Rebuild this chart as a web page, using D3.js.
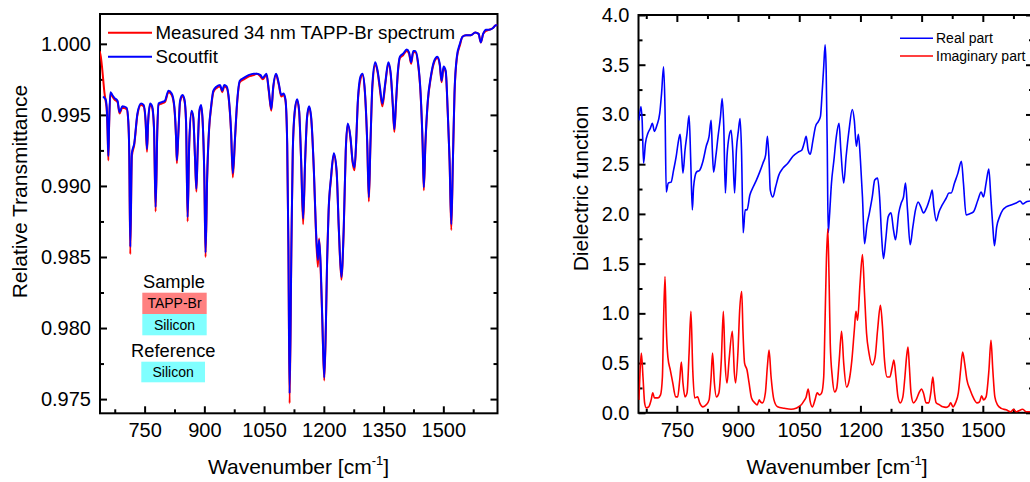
<!DOCTYPE html>
<html>
<head>
<title>TAPP-Br spectrum</title>
<script src="https://d3js.org/d3.v7.min.js"></script>
<style>
 body { margin: 0; background: #fff; }
 svg { display: block; font-family: Arial, "Liberation Sans", sans-serif; }
 .tick text { font-size: 20px; fill: #000; }
 .tick line { stroke: #000; stroke-width: 2px; }
</style>
</head>
<body>
<svg width="1030" height="482"></svg>
<script>
// ---------- left panel: relative transmittance ----------
const transWn = [637,640,643,646,649,652,655,657,659,661,664,669,674,682,687,694,705,709,711.5,714,718,724,732,741,747.5,752.5,756,759,764,769,773.6,777.6,782,785,793,801,810,818,824.6,829,831,835,839,845,850,854,858,862,868,872,876.6,880,883,887.5,891.7,895.7,900,903,907,912,917,922.6,931,939.5,945,950,956,962,967,971.5,977,982,989,999,1011,1024,1032,1041,1046.5,1056,1062,1068,1073,1080,1087,1093,1099,1103.6,1108,1111,1114,1118.6,1122,1127,1133,1138,1143,1148,1153,1158,1163,1168,1175,1180,1185,1188,1191.5,1196,1201,1205,1208,1212,1218,1225,1232,1237.5,1244,1250,1255,1260,1267,1272,1277,1281,1285,1292,1297,1303,1309,1313,1317,1322,1329,1335,1340.6,1347,1354,1362,1368,1373,1377,1381,1386,1391,1399,1408,1414,1419,1424.5,1429.5,1436,1443,1448,1451,1455,1461,1468.6,1477,1485,1491,1495.6,1500.6,1506,1511,1515.7,1520,1524,1528,1534,1541.6,1548,1557,1569,1580,1588.6,1594,1600,1607,1615.5,1624,1632,1636];
const fitT = [null,null,null,0.9963,0.9962,0.9961,0.9955,0.9940,0.9921,0.9945,0.9966,0.9964,0.9962,0.9960,0.9952,0.9956,0.9955,0.9946,0.9923,0.9857,0.9923,0.9930,0.9951,0.9958,0.9957,0.9946,0.9926,0.9946,0.9958,0.9956,0.9941,0.9885,0.9941,0.9958,0.9959,0.9960,0.9967,0.9965,0.9956,0.9934,0.9918,0.9939,0.9960,0.9964,0.9961,0.9946,0.9878,0.9930,0.9953,0.9949,0.9920,0.9898,0.9923,0.9953,0.9957,0.9946,0.9906,0.9853,0.9906,0.9941,0.9956,0.9967,0.9970,0.9971,0.9967,0.9971,0.9970,0.9960,0.9939,0.9909,0.9934,0.9958,0.9974,0.9976,0.9978,0.9979,0.9979,0.9978,0.9976,0.9979,0.9967,0.9954,0.9970,0.9979,0.9972,0.9964,0.9965,0.9961,0.9930,0.9859,0.9754,0.9859,0.9925,0.9953,0.9961,0.9953,0.9918,0.9877,0.9918,0.9949,0.9956,0.9949,0.9911,0.9871,0.9848,0.9862,0.9848,0.9808,0.9765,0.9801,0.9845,0.9883,0.9906,0.9923,0.9911,0.9871,0.9836,0.9871,0.9925,0.9944,0.9934,0.9918,0.9913,0.9930,0.9958,0.9977,0.9979,0.9967,0.9930,0.9892,0.9930,0.9972,0.9987,0.9981,0.9970,0.9958,0.9972,0.9987,0.9979,0.9958,0.9940,0.9958,0.9981,0.9991,0.9993,0.9996,0.9994,0.9987,0.9995,0.9995,0.9988,0.9965,0.9930,0.9899,0.9930,0.9960,0.9977,0.9988,0.9991,0.9986,0.9974,0.9984,0.9981,0.9953,0.9918,0.9873,0.9918,0.9965,0.9991,1.0000,1.0005,1.0006,1.0006,1.0008,1.0007,1.0001,1.0007,1.0010,1.0010,1.0011,1.0013,1.0013];
const measuredT = [0.9995,0.9991,0.9984,0.9975,0.9966,0.9960,0.9953,0.9938,0.9918,0.9944,0.9965,0.9963,0.9961,0.9959,0.9951,0.9955,0.9954,0.9945,0.9921,0.9852,0.9921,0.9929,0.9950,0.9957,0.9956,0.9945,0.9924,0.9945,0.9957,0.9955,0.9940,0.9882,0.9940,0.9957,0.9958,0.9959,0.9966,0.9964,0.9955,0.9933,0.9916,0.9938,0.9959,0.9963,0.9960,0.9945,0.9875,0.9929,0.9952,0.9948,0.9919,0.9896,0.9922,0.9952,0.9956,0.9945,0.9905,0.9850,0.9905,0.9940,0.9955,0.9966,0.9969,0.9970,0.9966,0.9970,0.9969,0.9959,0.9938,0.9906,0.9933,0.9957,0.9973,0.9975,0.9977,0.9978,0.9979,0.9977,0.9975,0.9978,0.9966,0.9953,0.9969,0.9978,0.9971,0.9963,0.9964,0.9960,0.9929,0.9857,0.9747,0.9857,0.9924,0.9952,0.9960,0.9952,0.9917,0.9873,0.9917,0.9948,0.9955,0.9948,0.9910,0.9869,0.9843,0.9863,0.9845,0.9806,0.9763,0.9799,0.9844,0.9882,0.9905,0.9922,0.9910,0.9870,0.9834,0.9870,0.9924,0.9943,0.9933,0.9917,0.9911,0.9929,0.9957,0.9975,0.9978,0.9966,0.9929,0.9889,0.9929,0.9970,0.9985,0.9980,0.9968,0.9956,0.9971,0.9986,0.9978,0.9957,0.9938,0.9957,0.9980,0.9990,0.9992,0.9995,0.9993,0.9986,0.9994,0.9994,0.9987,0.9964,0.9929,0.9897,0.9929,0.9959,0.9976,0.9987,0.9990,0.9985,0.9973,0.9983,0.9980,0.9952,0.9917,0.9869,0.9917,0.9964,0.9990,0.9999,1.0005,1.0006,1.0006,1.0008,1.0007,1.0001,1.0007,1.0009,1.0010,1.0011,1.0013,1.0013];

// ---------- right panel: dielectric function ----------
const realWn = [657,662,665,668.4,673,679,685,690,695,701,708,712.5,717.5,721,724,729,736,742,748.5,753,758,761.6,765,770,775,780,784,788,791,798,806,814,822,829,834,837,840,845.6,851,857,861,865,869,873,878,883,887,891.6,896,901,905,908.5,912.6,917.5,922,929,937,945,953,961,967.6,972,976,979,985.5,992,1000,1010,1022,1034.5,1047,1056,1062,1067,1072,1077,1083.6,1090,1097,1102,1106,1110,1113.5,1116,1118.6,1121,1124,1129,1135,1141,1147.5,1152,1159,1165,1172,1180,1185,1190,1195,1200,1205,1210,1216,1222,1229,1235,1242,1247,1252,1256.5,1262,1268,1275,1281,1286,1294,1300,1305.6,1310.5,1315.4,1322,1328.5,1335,1341.6,1348,1354.5,1363,1371,1376,1380,1386,1392.5,1400.6,1410.4,1417,1422.4,1430.6,1439,1447.6,1452.5,1459,1467,1477,1488,1496,1501.5,1508,1514.7,1519.6,1524.5,1528.5,1534,1541,1549,1557,1569,1582,1591.5,1598,1606,1616,1625];
const realPart = [2.94,3.08,2.94,2.51,2.71,2.81,2.86,2.91,2.83,2.89,3.01,3.21,3.48,3.05,2.22,2.31,2.32,2.44,2.58,2.71,2.80,2.61,2.41,2.64,2.81,2.99,2.54,2.04,2.27,2.42,2.44,2.53,2.68,2.78,2.94,2.64,2.42,2.58,2.78,2.98,3.16,2.88,2.21,2.58,2.78,2.84,2.64,2.21,2.64,2.84,2.96,2.64,1.81,2.04,2.04,2.19,2.27,2.34,2.42,2.51,2.59,2.78,2.54,2.24,2.17,2.27,2.39,2.46,2.51,2.58,2.62,2.64,2.71,2.78,2.64,2.60,2.74,2.88,2.93,2.98,3.21,3.48,3.70,3.45,2.71,1.81,1.97,2.31,2.54,2.78,2.91,2.64,2.31,2.58,2.84,3.05,2.94,2.68,2.80,2.54,2.17,1.70,1.89,2.01,2.17,2.34,2.36,2.17,1.77,1.55,1.74,1.97,2.01,1.84,1.74,2.01,2.11,2.17,2.31,2.04,1.69,1.87,2.04,2.12,2.07,2.01,2.07,2.17,2.24,2.07,1.93,2.02,2.09,2.16,2.21,2.21,2.31,2.41,2.53,2.31,1.99,2.00,2.02,2.14,2.22,2.17,2.31,2.45,2.17,1.87,1.68,1.87,1.97,2.04,2.07,2.09,2.11,2.13,2.10,2.12,2.13,2.14];
const imagWn = [657,660,663,667,671,675,681,687,691,695,704,710,714.6,717.5,721,724,728,734,740,747,752,757,761,765,770,775,780,784.5,789,793.6,801,806,814,822,829,834,837.5,842,847,853,859,864,868,873,878,886,891,894,900,904,909,912,916,922,927,933,941,947,952,955,960,967,971.8,976,981,988,997,1013,1030,1042,1048,1055,1060,1067,1072,1077,1082,1088.6,1094,1100,1105,1110,1113,1116.6,1120,1123,1126,1131,1137,1142,1148,1153.8,1159,1166,1172.6,1179,1185,1189,1193,1199,1205,1210,1215,1221,1229,1236,1242,1249,1254,1259,1265.6,1272,1278,1282,1287,1292,1297.6,1304,1309,1313,1316.6,1320,1324,1330,1336.5,1344.6,1349.6,1354.5,1361,1367.5,1372.5,1377.5,1381.5,1385.6,1393.8,1402,1410,1417,1421,1427,1433,1440,1445.6,1450.5,1455.4,1461,1469,1477,1486,1492,1497,1502,1508,1515,1520,1524.5,1529.5,1536,1545,1557,1569,1575,1582,1598,1606,1616,1625];
const imagPart = [0.13,0.43,0.60,0.36,0.10,0.05,0.06,0.13,0.20,0.15,0.15,0.18,0.36,0.93,1.37,0.87,0.56,0.43,0.30,0.16,0.16,0.33,0.51,0.30,0.16,0.20,0.60,1.02,0.43,0.15,0.16,0.10,0.06,0.08,0.13,0.36,0.60,0.30,0.16,0.20,0.53,1.02,0.53,0.30,0.53,0.82,0.40,0.30,0.63,1.03,1.22,0.83,0.50,0.43,0.30,0.15,0.10,0.08,0.13,0.11,0.10,0.20,0.46,0.63,0.36,0.13,0.06,0.045,0.035,0.045,0.06,0.08,0.11,0.16,0.24,0.11,0.06,0.13,0.20,0.18,0.20,0.36,0.87,1.54,1.85,1.37,0.70,0.36,0.21,0.25,0.53,0.82,0.50,0.26,0.33,0.53,0.83,1.02,0.93,1.30,1.59,1.20,0.80,0.60,0.48,0.56,0.83,1.08,0.87,0.53,0.36,0.36,0.46,0.53,0.36,0.16,0.10,0.16,0.36,0.56,0.66,0.46,0.20,0.10,0.13,0.21,0.24,0.20,0.10,0.10,0.20,0.36,0.20,0.10,0.08,0.06,0.055,0.07,0.10,0.06,0.10,0.20,0.43,0.61,0.50,0.33,0.23,0.15,0.10,0.11,0.17,0.13,0.16,0.43,0.73,0.43,0.16,0.08,0.045,0.03,0.01,0.035,0.01,0.035,0.01,0.01,0.01];

const wnTicks = [750, 900, 1050, 1200, 1350, 1500];
const wnMinor = [675, 825, 975, 1125, 1275, 1425, 1575];
const transTicks = [0.975, 0.980, 0.985, 0.990, 0.995, 1.000];
const transMinor = [0.9775, 0.9825, 0.9875, 0.9925, 0.9975];
const epsTicks = [0, 0.5, 1, 1.5, 2, 2.5, 3, 3.5, 4];
const epsMinor = [0.25, 0.75, 1.25, 1.75, 2.25, 2.75, 3.25, 3.75];

const svg = d3.select("svg");
const defs = svg.append("defs");

function drawPanel(id, box, xDomain, yDomain, yTicks, yMinor, yFmt, topTicks) {
    const x = d3.scaleLinear().domain(xDomain).range([box.left, box.right]);
    const y = d3.scaleLinear().domain(yDomain).range([box.bottom, box.top]);
    const g = svg.append("g");

    defs.append("clipPath").attr("id", id)
        .append("rect")
        .attr("x", box.left).attr("y", box.top)
        .attr("width", box.right - box.left).attr("height", box.bottom - box.top);

    // bottom axis, ticks pointing inward
    g.append("g").attr("transform", `translate(0,${box.bottom})`)
     .call(d3.axisBottom(x).tickValues(wnTicks).tickSize(-7).tickPadding(10).tickFormat(d3.format("d")));
    g.append("g").attr("transform", `translate(0,${box.bottom})`)
     .call(d3.axisBottom(x).tickValues(wnMinor).tickSize(-4).tickFormat(""));
    if (topTicks) {
        g.append("g").attr("transform", `translate(0,${box.top})`)
         .call(d3.axisTop(x).tickValues(wnTicks).tickSize(-7).tickFormat(""));
        g.append("g").attr("transform", `translate(0,${box.top})`)
         .call(d3.axisTop(x).tickValues(wnMinor).tickSize(-4).tickFormat(""));
    }
    g.append("g").attr("transform", `translate(${box.left},0)`)
     .call(d3.axisLeft(y).tickValues(yTicks).tickSize(-7).tickPadding(9).tickFormat(yFmt));
    g.append("g").attr("transform", `translate(${box.left},0)`)
     .call(d3.axisLeft(y).tickValues(yMinor).tickSize(-4).tickFormat(""));
    g.append("g").attr("transform", `translate(${box.right},0)`)
     .call(d3.axisRight(y).tickValues(yTicks).tickSize(-7).tickFormat(""));
    g.append("g").attr("transform", `translate(${box.right},0)`)
     .call(d3.axisRight(y).tickValues(yMinor).tickSize(-4).tickFormat(""));
    g.selectAll(".domain").remove();

    g.append("rect")
     .attr("x", box.left).attr("y", box.top)
     .attr("width", box.right - box.left).attr("height", box.bottom - box.top)
     .attr("fill", "none").attr("stroke", "#000").attr("stroke-width", 2);

    return { x, y, g };
}

function addXTitle(cx) {
    const t = svg.append("text")
        .attr("x", cx).attr("y", 474)
        .attr("text-anchor", "middle")
        .attr("font-size", 21);
    t.append("tspan").text("Wavenumber [cm");
    t.append("tspan").attr("font-size", 13).attr("dy", -9).text("-1");
    t.append("tspan").attr("dy", 9).text("]");
}

function addYTitle(x, cy, label) {
    svg.append("text")
       .attr("transform", `translate(${x},${cy}) rotate(-90)`)
       .attr("text-anchor", "middle")
       .attr("font-size", 21)
       .text(label);
}

// left
const L = drawPanel("clipL", {left: 100, right: 497.5, top: 14, bottom: 413.3},
                    [638, 1636], [0.974, 1.0021], transTicks, transMinor, d3.format(".3f"), false);
const lineL = (vals) => d3.line()
    .defined((d, i) => vals[i] !== null)
    .x((d, i) => L.x(transWn[i]))
    .y((d, i) => L.y(vals[i]))
    .curve(d3.curveMonotoneX);

L.g.append("path").datum(transWn)
   .attr("clip-path", "url(#clipL)")
   .attr("d", lineL(measuredT)(transWn))
   .attr("fill", "none").attr("stroke", "#ff0000").attr("stroke-width", 2);
L.g.append("path").datum(transWn)
   .attr("clip-path", "url(#clipL)")
   .attr("d", lineL(fitT)(transWn))
   .attr("fill", "none").attr("stroke", "#0000ff").attr("stroke-width", 2);

addXTitle(298.5);
addYTitle(26.5, 191.5, "Relative Transmittance");

// legend left
const legL = [{label: "Measured 34 nm TAPP-Br spectrum", color: "#ff0000", y: 32.7},
              {label: "Scoutfit", color: "#0000ff", y: 56.7}];
legL.forEach(d => {
    svg.append("line").attr("x1", 108).attr("x2", 152).attr("y1", d.y).attr("y2", d.y)
       .attr("stroke", d.color).attr("stroke-width", 2);
    svg.append("text").attr("x", 155.5).attr("y", d.y + 6.6)
       .attr("font-size", 18.7).text(d.label);
});

// sample / reference boxes
svg.append("text").attr("x", 174).attr("y", 287.7).attr("text-anchor", "middle")
   .attr("font-size", 18.3).text("Sample");
const boxes = [{label: "TAPP-Br", fill: "#ff8080", x: 142.3, y: 292.7, w: 64.4, h: 21.3},
               {label: "Silicon", fill: "#80ffff", x: 142.3, y: 314, w: 64.4, h: 21.3},
               {label: "Silicon", fill: "#80ffff", x: 141.3, y: 361.7, w: 63.7, h: 20.6}];
boxes.forEach(b => {
    svg.append("rect").attr("x", b.x).attr("y", b.y).attr("width", b.w).attr("height", b.h)
       .attr("fill", b.fill);
    svg.append("text").attr("x", b.x + b.w / 2).attr("y", b.y + b.h / 2 + 5)
       .attr("text-anchor", "middle").attr("font-size", 14).text(b.label);
});
svg.append("text").attr("x", 173.3).attr("y", 357.3).attr("text-anchor", "middle")
   .attr("font-size", 18.3).text("Reference");

// right
const R = drawPanel("clipR", {left: 638.5, right: 1033, top: 15, bottom: 412.8},
                    [656, 1623], [0, 4], epsTicks, epsMinor, d3.format(".1f"), true);
const lineR = (wn, vals) => d3.line()
    .x((d, i) => R.x(wn[i]))
    .y((d, i) => R.y(vals[i]))
    .curve(d3.curveMonotoneX)(wn);

R.g.append("path")
   .attr("clip-path", "url(#clipR)")
   .attr("d", lineR(realWn, realPart))
   .attr("fill", "none").attr("stroke", "#0000ff").attr("stroke-width", 1.6);
R.g.append("path")
   .attr("clip-path", "url(#clipR)")
   .attr("d", lineR(imagWn, imagPart))
   .attr("fill", "none").attr("stroke", "#ff0000").attr("stroke-width", 1.6);

addXTitle(837);
addYTitle(588, 188.5, "Dielectric function");

const legR = [{label: "Real part", color: "#0000ff", y: 38.3},
              {label: "Imaginary part", color: "#ff0000", y: 56}];
legR.forEach(d => {
    svg.append("line").attr("x1", 900).attr("x2", 933).attr("y1", d.y).attr("y2", d.y)
       .attr("stroke", d.color).attr("stroke-width", 1.5);
    svg.append("text").attr("x", 936).attr("y", d.y + 5)
       .attr("font-size", 14).text(d.label);
});
</script>
</body>
</html>
